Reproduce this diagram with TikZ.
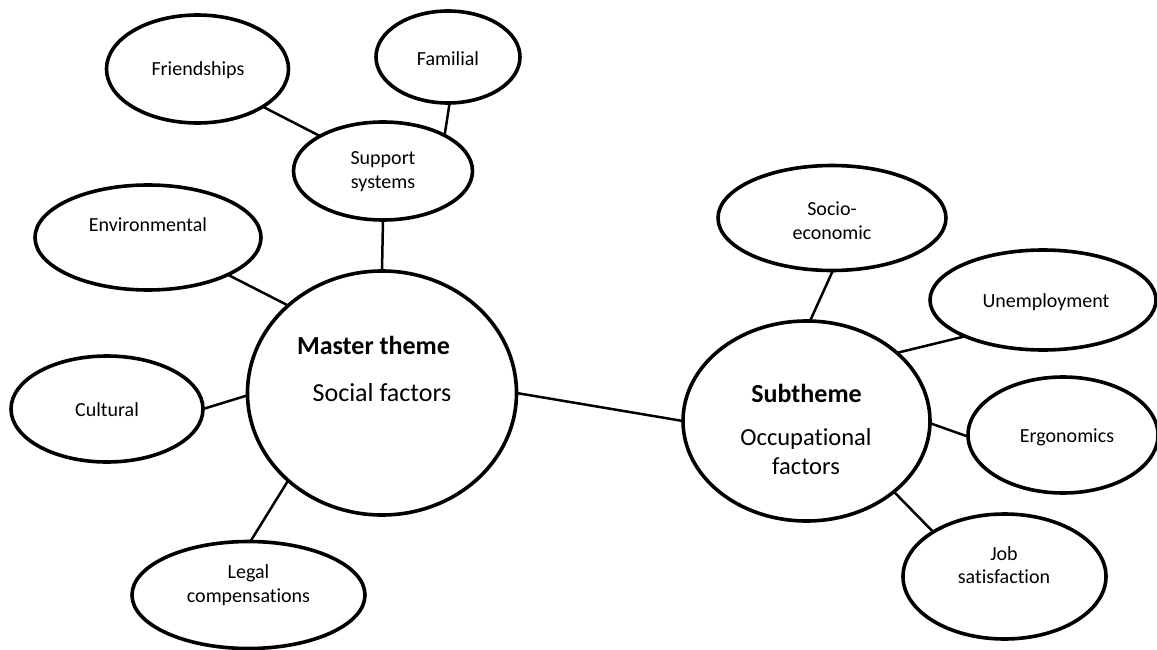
\documentclass[tikz,border=0pt]{standalone}
\usepackage{fontspec}
\setmainfont{Carlito}[Ligatures=NoCommon]
\usetikzlibrary{shapes.geometric}

\tikzset{
  bubble/.style={ellipse, draw=black, line width=3.6pt, inner sep=0pt, outer sep=0pt},
  link/.style={draw=black, line width=2.5pt},
  lbl/.style={align=center, inner sep=0pt, font=\fontsize{20}{23.5}\selectfont},
  headlbl/.style={inner sep=0pt, font=\bfseries\fontsize{26}{30}\selectfont},
  biglbl/.style={align=center, inner sep=0pt, font=\fontsize{26}{30}\selectfont},
  sublbl/.style={align=center, inner sep=0pt, font=\fontsize{24.5}{29}\selectfont},
}

\begin{document}
\begin{tikzpicture}[x=1pt, y=-1pt]
  \useasboundingbox (0,0) rectangle (1157,650);

  % bubbles
  \node[bubble, minimum width=182pt, minimum height=108pt] (fr)  at (197.5,69)   {};
  \node[bubble, minimum width=144pt, minimum height=92pt]  (fam) at (448,57)     {};
  \node[bubble, minimum width=179pt, minimum height=98pt]  (sup) at (383,171)    {};
  \node[bubble, minimum width=226pt, minimum height=105pt] (env) at (148,237.5)  {};
  \node[bubble, minimum width=269pt, minimum height=244pt] (mas) at (382,393)    {};
  \node[bubble, minimum width=192pt, minimum height=106pt] (cul) at (107,409)    {};
  \node[bubble, minimum width=233pt, minimum height=107pt] (leg) at (248.5,595)  {};
  \node[bubble, minimum width=247pt, minimum height=200pt] (sub) at (806.5,421)  {};
  \node[bubble, minimum width=228pt, minimum height=105pt] (soc) at (832,218)    {};
  \node[bubble, minimum width=226pt, minimum height=100pt] (une) at (1043,300)   {};
  \node[bubble, minimum width=190pt, minimum height=116pt] (erg) at (1063,435)   {};
  \node[bubble, minimum width=203pt, minimum height=125pt] (job) at (1004.5,576.5) {};

  % connectors
  \draw[link] (fr.-30)   -- (sup.151);
  \draw[link] (fam.-88)  -- (sup.30);
  \draw[link] (sup.-90)  -- (mas.90);
  \draw[link] (env.-25)  -- (mas.137.6);
  \draw[link] (cul.0)    -- (mas.181);
  \draw[link] (leg.88.5) -- (mas.223.3);
  \draw[link] (mas.-0.8) -- (sub.180.9);
  \draw[link] (soc.-89)  -- (sub.88.6);
  \draw[link] (une.205.4) -- (sub.37.7);
  \draw[link] (erg.181.2) -- (sub.-1.4);
  \draw[link] (job.148)  -- (sub.-39.6);

  % labels
  \node[lbl] (fr-t)  at (198,70)    {Friendships};
  \node[lbl] (fam-t) at (448,59)    {Familial};
  \node[lbl] (sup-t) at (383,171.5) {Support\\systems};
  \node[lbl] (env-t) at (148,225)   {Environmental};
  \node[lbl] (cul-t) at (107,410)   {Cultural};
  \node[lbl] (leg-t) at (248.5,585) {Legal\\compensations};
  \node[lbl] (soc-t) at (832,220.5) {Socio-\\economic};
  \node[lbl] (une-t) at (1046,302)  {Unemployment};
  \node[lbl] (erg-t) at (1067,437)  {Ergonomics};
  \node[lbl] (job-t) at (1004,565)  {Job\\satisfaction};

  \node[headlbl] (mas-h) at (373.5,345) {Master theme};
  \node[biglbl]  (mas-t) at (382,393)   {Social factors};
  \node[headlbl] (sub-h) at (806.5,393) {Subtheme};
  \node[sublbl]  (sub-t) at (806,451.5) {Occupational\\factors};
\end{tikzpicture}
\end{document}
